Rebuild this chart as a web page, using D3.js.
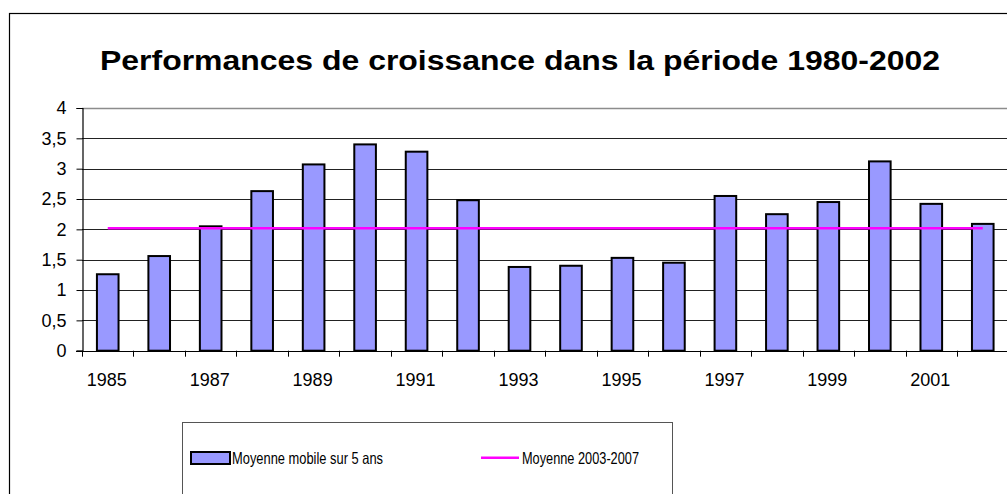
<!DOCTYPE html>
<html>
<head>
<meta charset="utf-8">
<script src="https://cdn.jsdelivr.net/npm/d3@7"></script>
<style>
  body { margin: 0; background: #fff; }
  svg { display: block; font-family: Arial, "Liberation Sans", sans-serif; }
</style>
</head>
<body>
<div id="chart"></div>
<script>
const years = [1985, 1986, 1987, 1988, 1989, 1990, 1991, 1992, 1993, 1994,
  1995, 1996, 1997, 1998, 1999, 2000, 2001, 2002];
const movingAvg = [1.26, 1.56, 2.05, 2.63, 3.07, 3.40, 3.28, 2.48, 1.38, 1.40,
  1.53, 1.45, 2.55, 2.25, 2.45, 3.12, 2.42, 2.09];
const avg2003 = [2.02, 2.02, 2.02, 2.02, 2.02, 2.02, 2.02, 2.02, 2.02, 2.02,
  2.02, 2.02, 2.02, 2.02, 2.02, 2.02, 2.02, 2.02];
const yTicks = [0, 0.5, 1, 1.5, 2, 2.5, 3, 3.5, 4];
const xLabelYears = [1985, 1987, 1989, 1991, 1993, 1995, 1997, 1999, 2001];
const titleText = "Performances de croissance dans la période 1980-2002";
const legendLabels = ["Moyenne mobile sur 5 ans", "Moyenne 2003-2007"];

const W = 1007, H = 494;
const plot = { left: 82, right: 1008.5, top: 108, bottom: 350.7 };

const svg = d3.select("#chart")
  .append("svg")
  .attr("width", W)
  .attr("height", H);

// outer chart frame (runs off the right / bottom edge)
svg.append("rect")
  .attr("x", 9.5).attr("y", 13.5)
  .attr("width", 1100).attr("height", 600)
  .attr("fill", "#fff")
  .attr("stroke", "#000")
  .attr("stroke-width", 1.2);

svg.append("text")
  .attr("x", 520).attr("y", 70)
  .attr("text-anchor", "middle")
  .attr("textLength", 840)
  .attr("lengthAdjust", "spacingAndGlyphs")
  .style("font-size", "28px")
  .style("font-weight", "bold")
  .text(titleText);

const x = d3.scaleBand()
  .domain(years)
  .range([plot.left, plot.right])
  .padding(0);

const y = d3.scaleLinear()
  .domain([0, 4])
  .range([plot.bottom, plot.top]);

const bw = x.bandwidth();

// gridlines
svg.append("g")
  .selectAll("line")
  .data(yTicks.filter((t) => t > 0))
  .enter()
  .append("line")
  .attr("x1", plot.left).attr("x2", W)
  .attr("y1", (d) => Math.round(y(d)) + 0.5)
  .attr("y2", (d) => Math.round(y(d)) + 0.5)
  .attr("stroke", (d) => (d === 4 ? "#8c8c8c" : "#222"))
  .attr("stroke-width", (d) => (d === 4 ? 1.6 : 1));

// bars
svg.append("g")
  .selectAll("rect")
  .data(years.map((yr, i) => ({ yr, v: movingAvg[i] })))
  .enter()
  .append("rect")
  .attr("x", (d) => x(d.yr) + bw * 0.29)
  .attr("width", bw * 0.42)
  .attr("y", (d) => y(d.v))
  .attr("height", (d) => y(0) - y(d.v))
  .attr("fill", "#9999ff")
  .attr("stroke", "#000")
  .attr("stroke-width", 2);

// average line
const line = d3.line()
  .x((d, i) => x(years[i]) + bw / 2)
  .y((d) => y(d));

svg.append("path")
  .datum(avg2003)
  .attr("d", line)
  .attr("fill", "none")
  .attr("stroke", "#ff00ff")
  .attr("stroke-width", 2.5);

// y axis
const yAxis = d3.axisLeft(y)
  .tickValues(yTicks)
  .tickSize(6)
  .tickPadding(10)
  .tickFormat((d) => String(d).replace(".", ","));

const gy = svg.append("g")
  .attr("transform", `translate(${plot.left + 0.5},0)`)
  .call(yAxis);
gy.select(".domain").attr("stroke", "#000").attr("stroke-width", 1.2);
gy.selectAll(".tick line").attr("stroke", "#000");
gy.selectAll(".tick text")
  .style("font-size", "18px")
  .style("font-family", "Arial, 'Liberation Sans', sans-serif")
  .attr("fill", "#000");

// x axis baseline + ticks between categories
const gx = svg.append("g");
gx.append("line")
  .attr("x1", plot.left - 6).attr("x2", W)
  .attr("y1", Math.round(y(0)) + 0.5).attr("y2", Math.round(y(0)) + 0.5)
  .attr("stroke", "#000")
  .attr("stroke-width", 1.2);
gx.selectAll(".xtick")
  .data(years)
  .enter()
  .append("line")
  .attr("class", "xtick")
  .attr("x1", (d) => Math.round(x(d)) + 0.5)
  .attr("x2", (d) => Math.round(x(d)) + 0.5)
  .attr("y1", y(0))
  .attr("y2", y(0) + 6)
  .attr("stroke", "#000");
gx.selectAll(".xlabel")
  .data(xLabelYears)
  .enter()
  .append("text")
  .attr("class", "xlabel")
  .attr("x", (d) => x(d) + bw / 2 - 1)
  .attr("y", 386)
  .attr("text-anchor", "middle")
  .style("font-size", "18px")
  .text((d) => d);

// legend
const lg = svg.append("g");
lg.append("rect")
  .attr("x", 182.5).attr("y", 422.5)
  .attr("width", 490).attr("height", 100)
  .attr("fill", "#fff")
  .attr("stroke", "#555")
  .attr("stroke-width", 1);
lg.append("rect")
  .attr("x", 191).attr("y", 452)
  .attr("width", 39).attr("height", 12)
  .attr("fill", "#9999ff")
  .attr("stroke", "#000")
  .attr("stroke-width", 2);
lg.append("text")
  .attr("x", 232).attr("y", 464)
  .attr("textLength", 151)
  .attr("lengthAdjust", "spacingAndGlyphs")
  .style("font-size", "16.5px")
  .text(legendLabels[0]);
lg.append("line")
  .attr("x1", 481).attr("x2", 519)
  .attr("y1", 457.7).attr("y2", 457.7)
  .attr("stroke", "#ff00ff")
  .attr("stroke-width", 2.5);
lg.append("text")
  .attr("x", 522).attr("y", 464)
  .attr("textLength", 117)
  .attr("lengthAdjust", "spacingAndGlyphs")
  .style("font-size", "16.5px")
  .text(legendLabels[1]);
</script>
</body>
</html>
